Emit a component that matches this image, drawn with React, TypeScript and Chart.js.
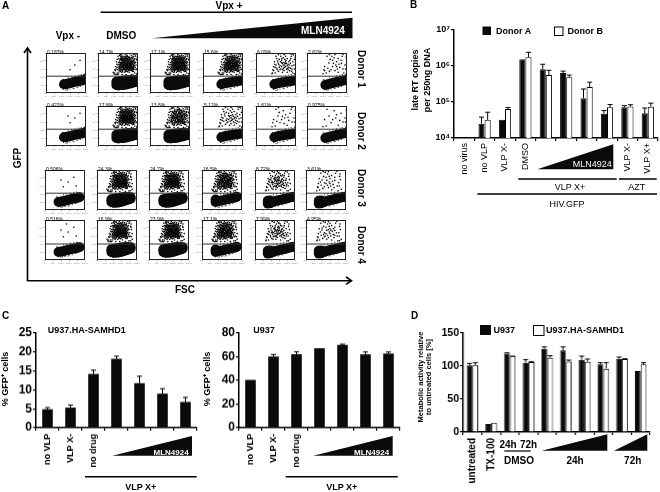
import React, { useEffect, useRef } from "react";
import { Chart, registerables } from "chart.js";

Chart.register(...registerables);
Chart.defaults.font.family = "'Liberation Sans', Arial, sans-serif";
Chart.defaults.color = "#000";

type Pt = number[];

/* ---------- Panel A (FSC %, GFP %) ---------- */
const gatePct = [42, 42, 42, 40];
const percentLabels = [
  ["0.187%", "14.7%", "17.1%", "15.6%", "6.09%", "2.62%"],
  ["0.422%", "17.8%", "13.6%", "5.12%", "1.61%", "0.975%"],
  ["0.506%", "24.3%", "24.7%", "16.5%", "8.72%", "3.61%"],
  ["0.516%", "16.9%", "23.9%", "17.1%", "7.99%", "4.95%"],
];
const donors = ["Donor 1", "Donor 2", "Donor 3", "Donor 4"];
const positiveCounts = [
  [3, 130, 150, 140, 62, 28],
  [4, 150, 120, 52, 18, 12],
  [5, 150, 150, 130, 75, 34],
  [6, 140, 150, 140, 70, 44],
];
const extraCounts = [
  [0, 100, 100, 80, 0, 0],
  [0, 100, 60, 0, 0, 0],
  [0, 100, 100, 80, 10, 0],
  [0, 100, 100, 80, 10, 0],
];
const outerCounts = [
  [0, 36, 36, 36, 20, 10],
  [0, 36, 36, 20, 10, 6],
  [0, 36, 36, 36, 20, 12],
  [0, 36, 36, 36, 20, 14],
];
const outerRight: Pt[] = [[40, 48], [98, 90], [44, 66], [99, 52], [50, 92], [96, 60], [42, 58], [90, 97], [56, 96], [99, 76], [46, 78], [62, 98], [97, 48], [41, 50], [94, 95], [52, 86], [86, 98], [47, 72], [100, 66], [74, 99], [43, 46], [98, 82], [58, 95], [50, 46], [70, 46], [84, 46], [48, 84], [80, 98], [93, 92], [60, 46], [38, 52], [96, 98], [66, 99], [54, 94], [99, 58], [45, 60]];
const outerLeft: Pt[] = [[27, 48], [85, 90], [31, 66], [88, 52], [37, 92], [83, 60], [29, 58], [77, 97], [43, 96], [86, 76], [33, 78], [49, 98], [84, 48], [28, 50], [81, 95], [39, 86], [73, 98], [34, 72], [88, 66], [61, 99], [30, 46], [85, 82], [45, 95], [37, 46], [57, 46], [71, 46], [35, 84], [67, 98], [80, 92], [47, 46], [25, 52], [83, 98], [53, 99], [41, 94], [86, 58], [32, 60]];
const extraRight: Pt[] = [
  [69, 73], [75, 67], [63, 79], [81, 85], [57, 69], [87, 61], [71, 81], [65, 59], [79, 71], [73, 93],
  [59, 65], [85, 75], [67, 87], [77, 63], [61, 53], [83, 81], [55, 61], [89, 77], [69, 63], [75, 79],
  [63, 71], [81, 57], [71, 67], [57, 83], [87, 71], [65, 77], [79, 89], [73, 53], [59, 73], [85, 59],
  [67, 69], [77, 83], [61, 85], [83, 67], [53, 71], [91, 83], [69, 91], [75, 59], [63, 63], [81, 73],
  [71, 75], [57, 57], [87, 79], [65, 71], [79, 65], [73, 83], [59, 81], [85, 87], [67, 61], [77, 73],
  [61, 69], [83, 93], [55, 77], [89, 67], [69, 79], [75, 89], [63, 87], [81, 61], [71, 59], [57, 75],
  [87, 65], [65, 91], [79, 77], [73, 69], [59, 59], [85, 71], [67, 83], [77, 67], [61, 75], [83, 77],
  [53, 55], [91, 69], [69, 57], [75, 85], [63, 67], [81, 83], [71, 87], [57, 65], [87, 89], [65, 73],
  [79, 59], [73, 77], [59, 87], [85, 63], [67, 65], [77, 79], [61, 65], [83, 73], [55, 83], [89, 59],
  [69, 85], [75, 73], [63, 83], [81, 69], [71, 71], [57, 91], [87, 75], [65, 61], [79, 85], [73, 65],
];
const extraLeft: Pt[] = [
  [55, 73], [61, 67], [49, 79], [67, 85], [43, 69], [73, 61], [57, 81], [51, 59], [65, 71], [59, 93],
  [45, 65], [71, 75], [53, 87], [63, 63], [47, 53], [69, 81], [41, 61], [75, 77], [55, 63], [61, 79],
  [49, 71], [67, 57], [57, 67], [43, 83], [73, 71], [51, 77], [65, 89], [59, 53], [45, 73], [71, 59],
  [53, 69], [63, 83], [47, 85], [69, 67], [39, 71], [77, 83], [55, 91], [61, 59], [49, 63], [67, 73],
  [57, 75], [43, 57], [73, 79], [51, 71], [65, 65], [59, 83], [45, 81], [71, 87], [53, 61], [63, 73],
  [47, 69], [69, 93], [41, 77], [75, 67], [55, 79], [61, 89], [49, 87], [67, 61], [57, 59], [43, 75],
  [73, 65], [51, 91], [65, 77], [59, 69], [45, 59], [71, 71], [53, 83], [63, 67], [47, 75], [69, 77],
  [39, 55], [77, 69], [55, 57], [61, 85], [49, 67], [67, 83], [57, 87], [43, 65], [73, 89], [51, 73],
  [65, 59], [59, 77], [45, 87], [71, 63], [53, 65], [63, 79], [47, 65], [69, 73], [41, 83], [75, 59],
  [55, 85], [61, 73], [49, 83], [67, 69], [57, 71], [43, 91], [73, 75], [51, 61], [65, 85], [59, 65],
];
const thinRight: Pt[] = [[45, 22], [50, 22], [56, 24], [62, 25], [68, 27], [74, 28], [80, 29], [86, 31], [92, 32], [97, 34], [100, 35]];
const thickRight: Pt[] = [[46, 20], [46, 28], [52, 20], [52, 29], [58, 20], [58, 30], [64, 20], [64, 31], [70, 21], [70, 31], [76, 23], [76, 32], [82, 24], [82, 32], [88, 26], [88, 32], [94, 28], [94, 32], [100, 29], [100, 32]];
const midRight: Pt[] = [[46, 22], [52, 24], [58, 25], [64, 26], [70, 27], [76, 28], [82, 29], [88, 30], [93, 31]];
const edgeRight: Pt[] = [[46, 20], [52, 22], [58, 23], [64, 25], [70, 26], [76, 28], [82, 29], [88, 31], [94, 32], [100, 33]];
const thinLeft: Pt[] = [[34, 20], [40, 21], [46, 22], [52, 24], [58, 25], [64, 27], [70, 28], [76, 29], [82, 31], [86, 32]];
const thickLeft: Pt[] = [[36, 20], [36, 27], [42, 18], [42, 28], [48, 18], [48, 29], [54, 19], [54, 30], [60, 20], [60, 31], [66, 22], [66, 32], [72, 24], [72, 32], [78, 26], [78, 32], [84, 28], [84, 32]];
const midLeft: Pt[] = [[34, 20], [34, 26], [40, 22], [46, 23], [52, 24], [58, 26], [64, 27], [70, 28], [76, 30], [82, 31], [87, 33]];
const wedgeLeft: Pt[] = [[32, 16], [32, 23], [38, 17], [38, 24], [44, 20], [50, 22], [56, 24], [62, 25], [68, 26], [74, 28], [80, 29], [86, 31], [92, 32], [97, 33]];
const blobRows = [
  [thinRight, thickRight, thickRight, midRight, midRight, edgeRight],
  [thinRight, thickRight, thickRight, midRight, midRight, edgeRight],
  [thinLeft, thickLeft, thickLeft, midLeft, wedgeLeft, wedgeLeft],
  [thinLeft, thickLeft, thickLeft, midLeft, wedgeLeft, wedgeLeft],
];
const fringeRight: Pt[] = [[38, 14], [42, 34], [44, 9], [50, 7], [56, 38], [60, 10], [64, 40], [68, 12], [74, 43], [78, 14], [82, 45], [86, 17], [92, 20], [96, 47], [36, 24], [39, 30], [54, 8], [70, 11], [88, 46], [99, 24]];
const fringeLeft: Pt[] = [[27, 14], [30, 34], [33, 8], [40, 7], [46, 38], [50, 9], [54, 40], [58, 10], [64, 42], [68, 13], [72, 44], [77, 16], [83, 20], [90, 42], [25, 24], [28, 30], [44, 8], [60, 11], [79, 45], [92, 28]];
const positiveRight: Pt[] = [
  [72, 70], [60, 58], [85, 82], [55, 75], [90, 60], [68, 88], [78, 52], [48, 50], [95, 70], [64, 66],
  [74, 78], [82, 64], [58, 84], [70, 56], [88, 92], [52, 62], [66, 74], [80, 72], [76, 60], [62, 92],
  [92, 50], [44, 56], [70, 96], [86, 74], [56, 54], [74, 66], [64, 82], [78, 86], [68, 62], [84, 56],
  [50, 70], [96, 84], [72, 84], [60, 68], [82, 78], [66, 52], [76, 74], [58, 64], [90, 68], [70, 76],
  [54, 80], [86, 62], [62, 60], [74, 92], [80, 58], [68, 70], [92, 78], [48, 64], [78, 68], [64, 76],
  [71, 64], [83, 70], [57, 72], [75, 82], [67, 58], [87, 86], [61, 78], [79, 62], [53, 58], [73, 74],
  [89, 54], [65, 86], [81, 76], [59, 52], [77, 90], [69, 66], [93, 64], [55, 68], [85, 66], [63, 72],
  [73, 60], [51, 76], [83, 88], [67, 80], [91, 74], [47, 46], [75, 70], [61, 88], [79, 80], [69, 54],
  [87, 58], [57, 60], [71, 90], [81, 66], [65, 68], [95, 58], [59, 76], [77, 56], [63, 64], [85, 78],
  [73, 86], [53, 66], [89, 82], [67, 72], [79, 74], [49, 58], [75, 64], [61, 82], [83, 60], [69, 78],
  [72, 58], [58, 70], [88, 70], [66, 84], [78, 76], [62, 56], [80, 84], [70, 68], [54, 64], [86, 54],
  [74, 72], [64, 62], [92, 86], [68, 92], [76, 80], [60, 74], [82, 68], [56, 86], [94, 76], [72, 62],
  [66, 78], [84, 74], [62, 68], [78, 64], [70, 82], [52, 50], [88, 64], [74, 54], [58, 90], [80, 70],
  [68, 76], [90, 56], [64, 58], [76, 68], [82, 90], [60, 62], [72, 76], [86, 68], [66, 64], [78, 94],
  [70, 72], [56, 78], [84, 84], [74, 60], [62, 74], [80, 78], [68, 60], [92, 62], [76, 84], [64, 70],
];
const positiveLeft: Pt[] = [
  [58, 70], [46, 58], [72, 82], [40, 75], [78, 60], [54, 90], [64, 50], [34, 50], [82, 68], [50, 66],
  [60, 78], [68, 64], [44, 84], [56, 56], [74, 92], [38, 62], [52, 74], [66, 72], [62, 60], [48, 94],
  [80, 48], [30, 56], [56, 96], [72, 74], [42, 54], [60, 66], [50, 82], [64, 86], [54, 62], [70, 56],
  [36, 70], [84, 84], [58, 84], [46, 68], [68, 78], [52, 52], [62, 74], [44, 64], [76, 68], [56, 76],
  [40, 80], [72, 62], [48, 60], [60, 92], [66, 58], [54, 70], [78, 78], [34, 64], [64, 68], [50, 76],
  [57, 64], [69, 70], [43, 72], [61, 82], [53, 58], [73, 86], [47, 78], [65, 62], [39, 58], [59, 74],
  [75, 54], [51, 86], [67, 76], [45, 52], [63, 90], [55, 66], [79, 64], [41, 68], [71, 66], [49, 72],
  [59, 60], [37, 76], [69, 88], [53, 80], [77, 74], [33, 46], [61, 70], [47, 88], [65, 80], [55, 54],
  [73, 58], [43, 60], [57, 90], [67, 66], [51, 68], [81, 58], [45, 76], [63, 56], [49, 64], [71, 78],
  [59, 86], [39, 66], [75, 82], [53, 72], [65, 74], [35, 58], [61, 64], [47, 82], [69, 60], [55, 78],
  [58, 58], [44, 70], [74, 70], [52, 84], [64, 76], [48, 56], [66, 84], [56, 68], [40, 64], [72, 54],
  [60, 72], [50, 62], [78, 86], [54, 92], [62, 80], [46, 74], [68, 68], [42, 86], [80, 76], [58, 62],
  [52, 78], [70, 74], [48, 68], [64, 64], [56, 82], [38, 50], [74, 64], [60, 54], [44, 90], [66, 70],
  [54, 76], [76, 56], [50, 58], [62, 68], [68, 90], [46, 62], [58, 76], [72, 68], [52, 64], [64, 94],
  [56, 72], [42, 78], [70, 84], [60, 60], [48, 74], [66, 78], [54, 60], [78, 62], [62, 84], [50, 70],
];
const miniXTicks = ["0", "50K", "100K", "150K", "200K", "250K"];
const miniYTicks = ["", "10²", "10³", "10⁴", "10⁵", ""];

/* ---------- Panel B ---------- */
const bLabels = ["no virus", "no VLP", "VLP X-", "DMSO", "", "", "", "", "VLP X-", "VLP X+"];
const bDonorA = [null, 2.5e4, 3.2e4, 1.54e6, 8.1e5, 6.4e5, 1.28e5, 4.7e4, 7.1e4, 4.9e4];
const bDonorB = [null, 3.2e4, 6.4e4, 1.75e6, 5.6e5, 4.9e5, 2.6e5, 7.1e4, 7.5e4, 7.4e4];
const bErrA = [null, 3.8e4, null, null, 1.12e6, 7.2e5, 2.3e5, 5.8e4, 7.9e4, 6.8e4];
const bErrB = [null, 5.2e4, 7e4, 2.4e6, 7.6e5, 5.6e5, 3.55e5, 8.5e4, 8.4e4, 9.3e4];
const bTicks = [1e4, 1e5, 1e6, 1e7];
const bTickLabels = ["10⁴", "10⁵", "10⁶", "10⁷"];

/* ---------- Panel C ---------- */
const cLabels = ["no VLP", "VLP X-", "no drug", "", "", "", ""];
const c1Values = [4.86, 5.3, 14.2, 18.2, 11.75, 9.0, 6.8];
const c1Err = [5.3, 6.0, 15.2, 18.9, 13.6, 10.3, 8.0];
const c1Ticks = [0, 5, 10, 15, 20, 25];
const c2Values = [40.4, 60.2, 62.1, 67.2, 70, 62, 62.7];
const c2Err = [null, 61.9, 64.1, null, 70.6, 64, 64];
const c2Ticks = [0, 20, 40, 60, 80];

/* ---------- Panel D ---------- */
const dLabels = ["untreated", "TX-100", "", "", "", "", "", "", "", ""];
const dU937 = [101, 12, 119, 105, 126, 123.7, 109.6, 102.5, 111, 92.4];
const dSamhd = [101, 14, 114.6, 106, 112.6, 107, 106.6, 96, 110.6, 102.5];
const dErrU937 = [104, null, 120, 109.6, 129, 129, 115, 105, 113.6, null];
const dErrSamhd = [105, null, 115, 106.5, 115.6, 109, 110.6, 105, 111, 105];
const dTicks = [0, 50, 100, 150];

/* ---------- Shared drawing ---------- */
const errorPlugin = {
  id: "errs",
  afterDatasetsDraw(chart: any, _a: any, opts: any) {
    const { ctx } = chart;
    const y = chart.scales.y;
    (opts.series || []).forEach((errs: (number | null)[], d: number) => {
      const meta = chart.getDatasetMeta(d);
      errs.forEach((e, i) => {
        if (e == null) return;
        const el: any = meta.data[i];
        const top = y.getPixelForValue(e);
        ctx.save();
        ctx.strokeStyle = "#000";
        ctx.lineWidth = 1;
        ctx.beginPath();
        ctx.moveTo(el.x, el.y);
        ctx.lineTo(el.x, top);
        ctx.moveTo(el.x - opts.cap, top);
        ctx.lineTo(el.x + opts.cap, top);
        ctx.stroke();
        ctx.restore();
      });
    });
  },
};
const framePlugin = {
  id: "frame",
  afterDatasetsDraw(chart: any) {
    const { ctx, chartArea: a } = chart;
    ctx.save();
    ctx.strokeStyle = "#222";
    ctx.lineWidth = 1;
    ctx.strokeRect(a.left + 0.5, a.top + 0.5, a.right - a.left - 1, a.bottom - a.top - 1);
    ctx.restore();
  },
};

function Canvas({ left, top, width, height, make, blur }: any) {
  const ref = useRef<HTMLCanvasElement>(null);
  useEffect(() => {
    const c = new Chart(ref.current as HTMLCanvasElement, make());
    return () => c.destroy();
  }, []);
  return (
    <canvas
      ref={ref}
      width={width}
      height={height}
      style={{ position: "absolute", left, top, width, height, display: "block", filter: blur ? `blur(${blur}px)` : undefined }}
    />
  );
}

const toPts = (list: Pt[]) => list.map(([x, y]) => ({ x, y }));

function Mini({ row, col, x, y }: any) {
  const pad = 6;
  const size = 44;
  const positives = row < 2 ? positiveRight : positiveLeft;
  const extras = row < 2 ? extraRight : extraLeft;
  const outer = row < 2 ? outerRight : outerLeft;
  const fringe = row < 2 ? fringeRight : fringeLeft;
  const count = positiveCounts[row][col];
  const dots = (list: Pt[]) => ({ data: toPts(list), pointRadius: 0.8, backgroundColor: "#000", borderWidth: 0 });
  const make = () => ({
    type: "scatter",
    plugins: [framePlugin],
    data: {
      datasets: [
        {
          data: [{ x: 0, y: gatePct[row] }, { x: 100, y: gatePct[row] }],
          showLine: true,
          borderColor: "#333",
          borderWidth: 1,
          pointRadius: 0,
        },
        { data: toPts(blobRows[row][col]), pointRadius: 5, backgroundColor: "#0a0a0a", borderWidth: 0 },
        { data: toPts(fringe), pointRadius: 0.6, backgroundColor: "#222", borderWidth: 0 },
        dots(positives.slice(0, count)),
        dots(extras.slice(0, extraCounts[row][col])),
        dots(outer.slice(0, outerCounts[row][col])),
      ],
    },
    options: {
      animation: false,
      responsive: false,
      layout: { padding: { top: 1, right: 1, left: 0, bottom: 0 } },
      plugins: { legend: { display: false }, tooltip: { enabled: false } },
      scales: {
        x: {
          type: "linear",
          min: 0,
          max: 100,
          afterFit: (s: any) => { s.height = pad; s.paddingLeft = 0; s.paddingRight = 0; },
          afterBuildTicks: (a: any) => { a.ticks = miniXTicks.map((_, i) => ({ value: i * 20 })); },
          grid: { drawOnChartArea: false, tickLength: 1.5, color: "#999", lineWidth: 0.6 },
          border: { display: false },
          ticks: {
            font: { size: 2.5 },
            color: "#888",
            padding: 0.5,
            maxRotation: 0,
            autoSkip: false,
            callback: (_: any, i: number) => miniXTicks[i],
          },
        },
        y: {
          min: 0,
          max: 100,
          afterFit: (s: any) => { s.width = pad; s.paddingTop = 0; s.paddingBottom = 0; },
          afterBuildTicks: (a: any) => { a.ticks = miniYTicks.map((_, i) => ({ value: i * 20 })); },
          grid: { drawOnChartArea: false, tickLength: 1.5, color: "#999", lineWidth: 0.6 },
          border: { display: false },
          ticks: {
            font: { size: 2.5 },
            color: "#888",
            padding: 0.5,
            autoSkip: false,
            callback: (_: any, i: number) => miniYTicks[i],
          },
        },
      },
    },
  });
  return <Canvas left={x - pad} top={y - 1} width={size + pad + 1} height={size + 1 + pad} make={make} blur={0.3} />;
}

function Bars(p: any) {
  const axisW = p.axisW;
  const below = p.below;
  const pw = p.x1 - p.x0;
  const ph = p.y1 - p.y0;
  const make = () => ({
    type: "bar",
    plugins: [errorPlugin],
    data: { labels: p.labels, datasets: p.datasets },
    options: {
      animation: false,
      responsive: false,
      layout: { padding: { top: 6, right: 3, left: 0, bottom: 0 } },
      plugins: {
        legend: { display: false },
        tooltip: { enabled: false },
        errs: { series: p.errors, cap: p.cap },
      },
      scales: {
        x: {
          afterFit: (s: any) => { s.height = below; s.paddingLeft = 0; s.paddingRight = 0; },
          grid: { offset: true, drawOnChartArea: false, tickLength: 3, color: "#000", lineWidth: 1.2 },
          border: { color: "#000", width: 1.5 },
          ticks: {
            autoSkip: false,
            minRotation: 90,
            maxRotation: 90,
            padding: p.labelPad,
            color: "#000",
            font: { size: p.labelSize, weight: p.labelWeight },
          },
        },
        y: {
          type: p.log ? "logarithmic" : "linear",
          min: p.ticks[0],
          max: p.ticks[p.ticks.length - 1],
          afterFit: (s: any) => { s.width = axisW; s.paddingTop = 0; s.paddingBottom = 0; },
          afterBuildTicks: (a: any) => { a.ticks = p.ticks.map((v: number) => ({ value: v })); },
          grid: { drawOnChartArea: false, tickLength: 3, color: "#000", lineWidth: 1.2 },
          border: { color: "#000", width: 1.5 },
          ticks: {
            padding: 1,
            autoSkip: false,
            color: "#000",
            font: { size: p.tickSize, weight: "bold" },
            callback: (v: any, i: number) => (p.tickLabels ? p.tickLabels[i] : String(v)),
          },
        },
      },
    },
  });
  return <Canvas left={p.x0 - axisW} top={p.y0 - 6} width={axisW + pw + 3} height={6 + ph + below} make={make} />;
}

const black = (data: any) => ({
  data,
  backgroundColor: "#0a0a0a",
  borderColor: "#0a0a0a",
  borderWidth: 1,
  categoryPercentage: 0.6,
  barPercentage: 1,
});
const white = (data: any) => ({
  data,
  backgroundColor: "#fff",
  borderColor: "#000",
  borderWidth: 1,
  categoryPercentage: 0.6,
  barPercentage: 1,
});
const single = (data: any) => ({
  data,
  backgroundColor: "#0a0a0a",
  borderColor: "#0a0a0a",
  borderWidth: 0,
  categoryPercentage: 0.46,
  barPercentage: 1,
});

function T({ x, y, s = 10, w = "bold", a = "start", r, fill = "#000", children }: any) {
  return (
    <text
      x={x}
      y={y}
      fontSize={s}
      fontWeight={w}
      textAnchor={a}
      fill={fill}
      fontFamily="'Liberation Sans', Arial, sans-serif"
      transform={r ? `rotate(${r} ${x} ${y})` : undefined}
    >
      {children}
    </text>
  );
}
const Line = ({ x1, x2, y, w = 1.5 }: any) => <line x1={x1} x2={x2} y1={y} y2={y} stroke="#000" strokeWidth={w} />;
const Wedge = ({ x0, x1, top, bottom }: any) => (
  <polygon points={`${x0},${bottom} ${x1},${top} ${x1},${bottom}`} fill="#0a0a0a" />
);

const colX = [46, 98, 150, 203, 256, 307];
const rowY = [49, 102, 166, 216];
const donorCenter = [69, 131, 188, 245];

export default function App() {
  return (
    <div style={{ position: "absolute", left: 0, top: 0, width: 660, height: 492, background: "#fff", overflow: "hidden" }}>
      {rowY.map((y, r) =>
        colX.map((x, c) => <Mini key={`${r}-${c}`} row={r} col={c} x={r >= 2 ? x - 1 : x} y={y} />)
      )}

      <Bars
        x0={454} x1={658} y0={30} y1={138.3} axisW={30} below={46}
        labels={bLabels}
        datasets={[black(bDonorA), white(bDonorB)]}
        errors={[bErrA, bErrB]}
        cap={2.5} log ticks={bTicks} tickLabels={bTickLabels} tickSize={9}
        labelSize={9} labelWeight="normal" labelPad={2}
      />
      <Bars
        x0={36} x1={197} y0={333.3} y1={427.7} axisW={26} below={50}
        labels={cLabels}
        datasets={[single(c1Values)]}
        errors={[c1Err]}
        cap={2.5} ticks={c1Ticks} tickSize={12}
        labelSize={9} labelWeight="bold" labelPad={3}
      />
      <Bars
        x0={238.5} x1={399.5} y0={333.3} y1={427.7} axisW={26} below={50}
        labels={cLabels}
        datasets={[single(c2Values)]}
        errors={[c2Err]}
        cap={2.5} ticks={c2Ticks} tickSize={12}
        labelSize={9} labelWeight="bold" labelPad={3}
      />
      <Bars
        x0={463.3} x1={650} y0={332.7} y1={431.7} axisW={26} below={56}
        labels={dLabels}
        datasets={[black(dU937), white(dSamhd)].map((d) => ({ ...d, categoryPercentage: 0.62 }))}
        errors={[dErrU937, dErrSamhd]}
        cap={2.5} ticks={dTicks} tickSize={10.5}
        labelSize={10} labelWeight="bold" labelPad={3}
      />

      <svg width={660} height={492} style={{ position: "absolute", left: 0, top: 0, pointerEvents: "none" }}>
        {/* Panel A */}
        <T x={2} y={9}>A</T>
        <T x={229} y={8.5} a="middle">Vpx +</T>
        <Line x1={100.7} x2={352} y={12.3} />
        <Wedge x0={152} x1={352.5} top={17.7} bottom={38.3} />
        <T x={301} y={34.3} fill="#fff">MLN4924</T>
        <T x={55.7} y={39}>Vpx -</T>
        <T x={106.3} y={39}>DMSO</T>
        <T x={20.5} y={158} a="middle" r={-90}>GFP</T>
        <T x={185} y={292.5} a="middle">FSC</T>
        <polyline points="24,53 27.5,48 31,53" fill="none" stroke="#000" strokeWidth={1.6} />
        <polyline points="27.5,48 27.5,280.7 351,280.7" fill="none" stroke="#000" strokeWidth={1.6} />
        <polyline points="346,277 351.5,280.7 346,284.4" fill="none" stroke="#000" strokeWidth={1.6} />
        {donors.map((d, i) => (
          <T key={d} x={357.5} y={donorCenter[i]} a="middle" r={90}>{d}</T>
        ))}
        {percentLabels.map((row, r) =>
          row.map((p, c) => (
            <T key={`${r}${c}`} x={colX[c] + (r >= 2 ? 0 : 1)} y={rowY[r] + 5} s={5} w="normal">{p}</T>
          ))
        )}

        {/* Panel B */}
        <T x={410} y={8}>B</T>
        <rect x={482.5} y={26.5} width={8.5} height={8.5} fill="#0a0a0a" />
        <T x={496} y={33.5} s={9}>Donor A</T>
        <rect x={554.5} y={27} width={8.5} height={8.5} fill="#fff" stroke="#000" strokeWidth={1} />
        <T x={567.5} y={33.5} s={9}>Donor B</T>
        <T x={418} y={80} s={9} a="middle" r={-90}>late RT copies</T>
        <T x={430} y={80} s={9} a="middle" r={-90}>per 250ng DNA</T>
        <Wedge x0={537.3} x1={613.3} top={144.3} bottom={169.3} />
        <T x={572.7} y={166.7} s={9} w="normal" fill="#fff">MLN4924</T>
        <Line x1={518.3} x2={616.7} y={179} />
        <Line x1={619} x2={656.7} y={179} />
        <T x={570} y={189.5} s={9} w="normal" a="middle">VLP X+</T>
        <T x={636.7} y={189.5} s={9} w="normal" a="middle">AZT</T>
        <Line x1={477.3} x2={657} y={194} />
        <T x={567} y={207} s={9} w="normal" a="middle">HIV.GFP</T>

        {/* Panel C */}
        <T x={2} y={319}>C</T>
        <T x={47.7} y={332.7} s={9}>U937.HA-SAMHD1</T>
        <T x={8} y={379} s={9} a="middle" r={-90}>% GFP⁺ cells</T>
        <Wedge x0={112.3} x1={192} top={436} bottom={455.7} />
        <T x={153.5} y={454.5} s={8} fill="#fff">MLN4924</T>
        <Line x1={85} x2={196.7} y={476.7} />
        <T x={140.7} y={490} s={9} a="middle">VLP X+</T>

        <T x={253.3} y={332.7} s={9}>U937</T>
        <T x={209.5} y={379} s={9} a="middle" r={-90}>% GFP⁺ cells</T>
        <Wedge x0={313.3} x1={392.7} top={436} bottom={455.7} />
        <T x={354} y={454.5} s={8} fill="#fff">MLN4924</T>
        <Line x1={285.7} x2={397.7} y={476.7} />
        <T x={341.7} y={490} s={9} a="middle">VLP X+</T>

        {/* Panel D */}
        <T x={411} y={319}>D</T>
        <rect x={480} y={325} width={11} height={10} fill="#0a0a0a" />
        <T x={493.5} y={332.7} s={9}>U937</T>
        <rect x={533.5} y={325.5} width={10.5} height={10} fill="#fff" stroke="#000" strokeWidth={1} />
        <T x={546} y={332.7} s={9}>U937.HA-SAMHD1</T>
        <T x={422.5} y={377} s={7.5} a="middle" r={-90}>Metabolic activity relative</T>
        <T x={431} y={377} s={7.5} a="middle" r={-90}>to untreated cells [%]</T>
        <T x={508} y={448} s={10} a="middle">24h</T>
        <T x={528.5} y={448} s={10} a="middle">72h</T>
        <Line x1={504.3} x2={530.7} y={451} w={1.2} />
        <T x={519} y={464} s={10} a="middle">DMSO</T>
        <T x={575} y={464} s={10} a="middle">24h</T>
        <T x={632.7} y={464} s={10} a="middle">72h</T>
        <Wedge x0={541.7} x1={607.3} top={434.3} bottom={450.7} />
        <Wedge x0={614} x1={647.3} top={434.3} bottom={450.7} />
      </svg>
    </div>
  );
}
